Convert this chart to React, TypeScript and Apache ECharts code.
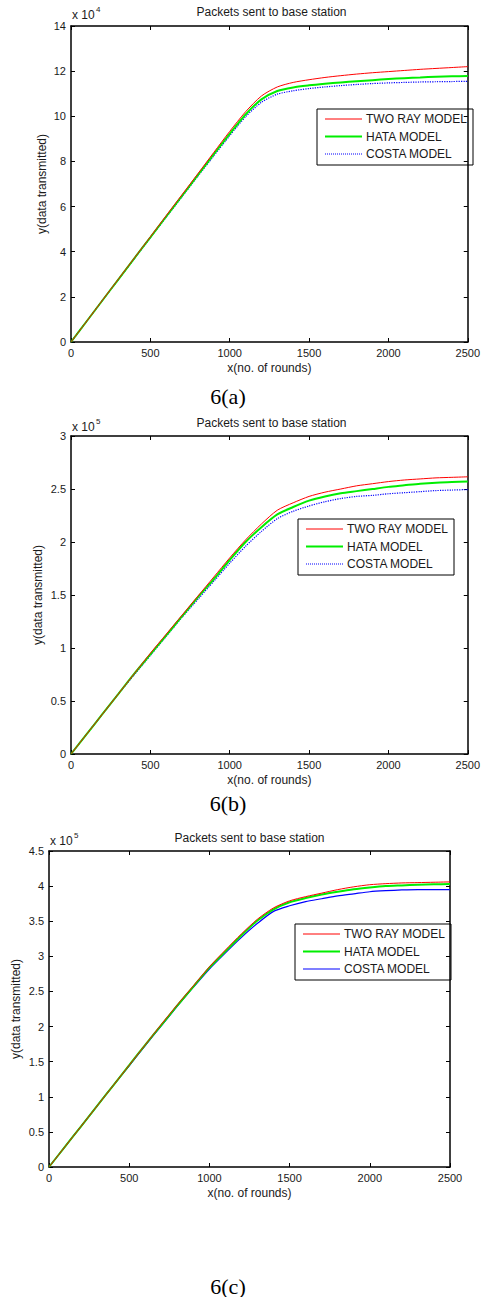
import React, { useEffect, useRef } from "react";
import * as echarts from "echarts";

// x values: number of rounds
const ROUNDS = [0, 100, 200, 300, 400, 500, 600, 700, 800, 900, 1000, 1100, 1200, 1300, 1400, 1500, 1600, 1700, 1800, 1900, 2000, 2100, 2200, 2300, 2400, 2500];

// Panel 6(a): values in units of 1e4 packets
const A_TWO_RAY = [0, 0.93, 1.87, 2.8, 3.73, 4.66, 5.6, 6.53, 7.46, 8.4, 9.33, 10.2, 10.9, 11.3, 11.5, 11.62, 11.72, 11.8, 11.87, 11.93, 11.98, 12.03, 12.08, 12.12, 12.16, 12.2];
const A_HATA = [0, 0.93, 1.86, 2.79, 3.72, 4.64, 5.56, 6.48, 7.4, 8.32, 9.22, 10.08, 10.75, 11.12, 11.28, 11.37, 11.44, 11.5, 11.55, 11.6, 11.65, 11.69, 11.72, 11.75, 11.77, 11.79];
const A_COSTA = [0, 0.93, 1.86, 2.78, 3.7, 4.62, 5.53, 6.44, 7.35, 8.25, 9.14, 9.98, 10.62, 10.98, 11.13, 11.23, 11.3, 11.36, 11.41, 11.45, 11.48, 11.5, 11.52, 11.53, 11.54, 11.55];

// Panel 6(b): values in units of 1e5 packets
const B_TWO_RAY = [0, 0.19, 0.38, 0.57, 0.76, 0.95, 1.13, 1.31, 1.49, 1.67, 1.85, 2.02, 2.17, 2.3, 2.37, 2.43, 2.47, 2.5, 2.53, 2.55, 2.57, 2.585, 2.595, 2.605, 2.61, 2.615];
const B_HATA = [0, 0.19, 0.38, 0.57, 0.76, 0.94, 1.12, 1.3, 1.48, 1.65, 1.83, 2.0, 2.14, 2.26, 2.33, 2.39, 2.43, 2.46, 2.48, 2.5, 2.52, 2.535, 2.55, 2.56, 2.565, 2.57];
const B_COSTA = [0, 0.19, 0.38, 0.57, 0.75, 0.93, 1.11, 1.29, 1.46, 1.63, 1.8, 1.96, 2.1, 2.22, 2.29, 2.34, 2.38, 2.41, 2.43, 2.44, 2.455, 2.465, 2.475, 2.485, 2.49, 2.495];

// Panel 6(c): values in units of 1e5 packets
const C_TWO_RAY = [0, 0.29, 0.58, 0.87, 1.16, 1.45, 1.74, 2.03, 2.31, 2.58, 2.85, 3.09, 3.32, 3.53, 3.69, 3.79, 3.85, 3.9, 3.95, 3.99, 4.02, 4.035, 4.045, 4.05, 4.055, 4.06];
const C_HATA = [0, 0.29, 0.58, 0.87, 1.16, 1.45, 1.74, 2.02, 2.3, 2.57, 2.84, 3.07, 3.3, 3.51, 3.67, 3.77, 3.83, 3.88, 3.92, 3.955, 3.98, 4.0, 4.01, 4.02, 4.025, 4.03];
const C_COSTA = [0, 0.29, 0.58, 0.87, 1.16, 1.44, 1.73, 2.01, 2.29, 2.56, 2.82, 3.05, 3.27, 3.47, 3.64, 3.72, 3.78, 3.82, 3.86, 3.89, 3.92, 3.935, 3.945, 3.95, 3.95, 3.95];

const SERIES_NAMES = ["TWO RAY MODEL", "HATA MODEL", "COSTA MODEL"];
const PANEL_TITLE = "Packets sent to base station";
const X_NAME = "x(no. of rounds)";
const Y_NAME = "y(data transmitted)";
const CAPTIONS = ["6(a)", "6(b)", "6(c)"];
const EXPONENTS = ["4", "5", "5"];
const Y_MAX = [14, 3, 4.5];
const Y_STEP = [2, 0.5, 0.5];
const X_MAX = 2500;
const X_STEP = 500;

const PANEL_DATA = [
  [A_TWO_RAY, A_HATA, A_COSTA],
  [B_TWO_RAY, B_HATA, B_COSTA],
  [C_TWO_RAY, C_HATA, C_COSTA],
];

// layout
const GRIDS = [
  { left: 71, top: 26, width: 401, height: 316, titleY: 12, expY: 15, capY: 396, legLeft: 317, legTop: 109, yNameX: 42 },
  { left: 71, top: 436, width: 401, height: 318, titleY: 423, expY: 427, capY: 803, legLeft: 298, legTop: 519, yNameX: 38 },
  { left: 49, top: 851, width: 401, height: 316, titleY: 838, expY: 841, capY: 1286, legLeft: 295, legTop: 924, yNameX: 16 },
];

const COLORS = ["#ff0000", "#00ee00", "#0000ff"];
const FONT = "'Liberation Sans', Arial, sans-serif";
const SERIF = "'Liberation Serif', 'Times New Roman', serif";
const TXT = "#1a1a1a";

export default function App() {
  const ref = useRef<HTMLDivElement>(null);

  useEffect(() => {
    if (!ref.current) return;
    const chart = echarts.init(ref.current, undefined, { renderer: "svg" });

    const lineStyles = (p: number) => [
      { color: COLORS[0], width: 1 },
      { color: COLORS[1], width: 2 },
      { color: COLORS[2], width: 1.2, type: p < 2 ? "dotted" : "solid" },
    ];

    const grid: any[] = [];
    const xAxis: any[] = [];
    const yAxis: any[] = [];
    const series: any[] = [];
    const graphic: any[] = [];

    const axisLine = { show: true, onZero: false, lineStyle: { color: "#000", width: 1.5 } };
    const axisTick = { show: true, inside: true, length: 4, lineStyle: { color: "#000", width: 1 } };
    const fmt = (v: number) => String(v);

    GRIDS.forEach((g, p) => {
      grid.push({ left: g.left, top: g.top, width: g.width, height: g.height, containLabel: false });
      xAxis.push({
        type: "value", gridIndex: p, position: "bottom", min: 0, max: X_MAX, interval: X_STEP,
        axisLine, axisTick, splitLine: { show: false },
        axisLabel: { margin: 5, fontSize: 11, fontFamily: FONT, color: TXT, formatter: fmt },
        name: X_NAME, nameLocation: "middle", nameGap: 20,
        nameTextStyle: { fontSize: 12, fontFamily: FONT, color: TXT },
      });
      xAxis.push({
        type: "value", gridIndex: p, position: "top", min: 0, max: X_MAX, interval: X_STEP,
        axisLine, axisTick, splitLine: { show: false }, axisLabel: { show: false },
      });
      yAxis.push({
        type: "value", gridIndex: p, position: "left", min: 0, max: Y_MAX[p], interval: Y_STEP[p],
        axisLine, axisTick, splitLine: { show: false },
        axisLabel: { margin: 5, fontSize: 11, fontFamily: FONT, color: TXT, formatter: fmt },
      });
      yAxis.push({
        type: "value", gridIndex: p, position: "right", min: 0, max: Y_MAX[p], interval: Y_STEP[p],
        axisLine, axisTick, splitLine: { show: false }, axisLabel: { show: false },
      });

      const ls = lineStyles(p);
      PANEL_DATA[p].forEach((vals, s) => {
        series.push({
          type: "line",
          name: SERIES_NAMES[s],
          xAxisIndex: p * 2,
          yAxisIndex: p * 2,
          data: ROUNDS.map((x, i) => [x, vals[i]]),
          symbol: "none",
          smooth: 0.25,
          lineStyle: ls[s],
          itemStyle: { color: COLORS[s] },
          z: 3 - s,
        });
      });

      // legend box drawn as graphic elements
      const boxW = 156;
      const boxH = 56;
      const legendChildren: any[] = [
        {
          type: "rect",
          shape: { x: 0, y: 0, width: boxW, height: boxH },
          style: { fill: "#fff", stroke: "#000", lineWidth: 1 },
        },
      ];
      SERIES_NAMES.forEach((n, s) => {
        const cy = 10 + s * 17.5;
        legendChildren.push({
          type: "line",
          shape: { x1: 8, y1: cy, x2: 45, y2: cy },
          style: { stroke: COLORS[s], lineWidth: ls[s].width, lineDash: (ls[s] as any).type === "dotted" ? [1, 1] : null },
        });
        legendChildren.push({
          type: "text",
          x: 49,
          y: cy,
          style: { text: n, fontSize: 12, fontFamily: FONT, fill: TXT, textAlign: "left", textVerticalAlign: "middle" },
        });
      });
      graphic.push({ type: "group", x: g.legLeft, y: g.legTop, z: 100, children: legendChildren });

      graphic.push({
        type: "text", x: g.yNameX, y: g.top + g.height / 2, rotation: Math.PI / 2,
        style: { text: Y_NAME, fontSize: 12, fontFamily: FONT, fill: TXT, textAlign: "center", textVerticalAlign: "middle" },
      });
      graphic.push({
        type: "text", x: g.left + g.width / 2, y: g.titleY,
        style: { text: PANEL_TITLE, fontSize: 12, fontFamily: FONT, fill: TXT, textAlign: "center", textVerticalAlign: "middle" },
      });
      graphic.push({
        type: "text", x: g.left + 1, y: g.expY,
        style: { text: "x 10", fontSize: 12, fontFamily: FONT, fill: TXT, textAlign: "left", textVerticalAlign: "middle" },
      });
      graphic.push({
        type: "text", x: g.left + 25, y: g.expY - 6,
        style: { text: EXPONENTS[p], fontSize: 8, fontFamily: FONT, fill: TXT, textAlign: "left", textVerticalAlign: "middle" },
      });
      graphic.push({
        type: "text", x: 228, y: g.capY,
        style: { text: CAPTIONS[p], fontSize: 22, fontFamily: SERIF, fill: "#000", textAlign: "center", textVerticalAlign: "middle" },
      });
    });

    chart.setOption({
      animation: false,
      backgroundColor: "#fff",
      grid,
      xAxis,
      yAxis,
      series,
      graphic,
    });

    return () => chart.dispose();
  }, []);

  return (
    <div
      ref={ref}
      style={{ position: "absolute", left: 0, top: 0, width: 483, height: 1297, background: "#fff" }}
    />
  );
}
